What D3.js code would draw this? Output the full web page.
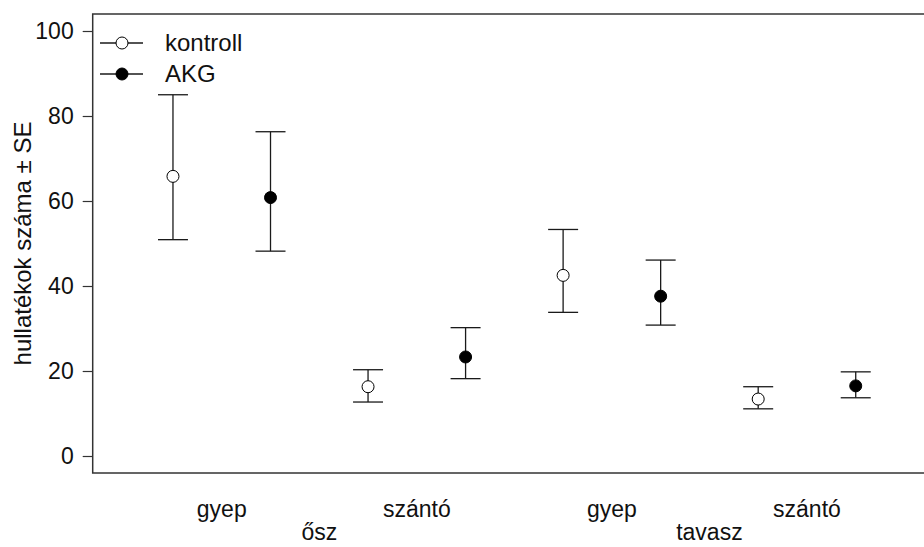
<!DOCTYPE html>
<html>
<head>
<meta charset="utf-8">
<script src="https://cdn.jsdelivr.net/npm/d3@7"></script>
<style>
  body { margin: 0; background: #fff; }
  svg { display: block; }
  text { font-family: "Liberation Sans", Arial, sans-serif; fill: #111; }
</style>
</head>
<body>
<svg id="chart" width="924" height="547"></svg>
<script>
// values (mean and SE limits)
const seasons = ["ősz", "tavasz"];
const habitats = ["gyep", "szántó", "gyep", "szántó"];
const groups = ["kontroll", "AKG"];
const kontrollMean = [65.8, 16.3, 42.5, 13.4];
const kontrollLow = [50.9, 12.7, 33.8, 11.1];
const kontrollHigh = [85.0, 20.3, 53.3, 16.3];
const akgMean = [60.8, 23.3, 37.6, 16.5];
const akgLow = [48.2, 18.2, 30.8, 13.7];
const akgHigh = [76.3, 30.2, 46.1, 19.8];
const yTicks = [0, 20, 40, 60, 80, 100];

let width = 924, height = 547;
let box = { left: 92.7, top: 14, right: 936, bottom: 473 };

let points = [];
habitats.forEach((h, i) => {
  points.push({ pos: i * 2 + 1, group: "kontroll", mean: kontrollMean[i], lo: kontrollLow[i], hi: kontrollHigh[i] });
  points.push({ pos: i * 2 + 2, group: "AKG", mean: akgMean[i], lo: akgLow[i], hi: akgHigh[i] });
});

let x = d3.scaleLinear().domain([0.177, 8.823]).range([box.left, box.right]);
let y = d3.scaleLinear().domain([-4, 104]).range([box.bottom, box.top]);

let svg = d3.select("#chart");

// frame
svg.append("rect")
  .attr("x", box.left).attr("y", box.top)
  .attr("width", box.right - box.left).attr("height", box.bottom - box.top)
  .attr("fill", "none").attr("stroke", "#333").attr("stroke-width", 1.5);

// y axis
let yAxis = g => g.attr("transform", `translate(${box.left},0)`)
  .call(d3.axisLeft(y).tickValues(yTicks).tickSize(10).tickPadding(9).tickFormat(d3.format("d")))
  .call(g => g.select(".domain").remove())
  .call(g => g.selectAll(".tick line").attr("stroke", "#333").attr("stroke-width", 1.2))
  .call(g => g.selectAll(".tick text").attr("font-size", 23).attr("font-family", "Liberation Sans, Arial, sans-serif").attr("fill", "#111"));
svg.append("g").call(yAxis);

svg.append("text")
  .attr("transform", `translate(31,${y(50)}) rotate(-90)`)
  .attr("text-anchor", "middle")
  .attr("font-size", 24)
  .text("hullatékok száma ± SE");

// x labels
svg.append("g").selectAll("text").data(habitats).join("text")
  .attr("x", (d, i) => x(i * 2 + 1.5))
  .attr("y", 517)
  .attr("text-anchor", "middle")
  .attr("font-size", 23)
  .text(d => d);

svg.append("g").selectAll("text").data(seasons).join("text")
  .attr("x", (d, i) => x(i * 4 + 2.5))
  .attr("y", 540)
  .attr("text-anchor", "middle")
  .attr("font-size", 23)
  .text(d => d);

// error bars
let cap = 15;
let bars = svg.append("g").attr("stroke", "#1a1a1a").attr("stroke-width", 1.3);
bars.selectAll("line.v").data(points).join("line").attr("class", "v")
  .attr("x1", d => x(d.pos)).attr("x2", d => x(d.pos))
  .attr("y1", d => y(d.lo)).attr("y2", d => y(d.hi));
bars.selectAll("line.hi").data(points).join("line").attr("class", "hi")
  .attr("x1", d => x(d.pos) - cap).attr("x2", d => x(d.pos) + cap)
  .attr("y1", d => y(d.hi)).attr("y2", d => y(d.hi));
bars.selectAll("line.lo").data(points).join("line").attr("class", "lo")
  .attr("x1", d => x(d.pos) - cap).attr("x2", d => x(d.pos) + cap)
  .attr("y1", d => y(d.lo)).attr("y2", d => y(d.lo));

svg.append("g").selectAll("circle").data(points).join("circle")
  .attr("cx", d => x(d.pos)).attr("cy", d => y(d.mean)).attr("r", 6)
  .attr("fill", d => d.group == "AKG" ? "#000" : "#fff")
  .attr("stroke", "#000").attr("stroke-width", 1);

// legend
let legend = svg.append("g").selectAll("g").data(groups).join("g")
  .attr("transform", (d, i) => `translate(0,${43 + i * 31})`);
legend.append("line").attr("x1", 100).attr("x2", 143).attr("y1", 0).attr("y2", 0)
  .attr("stroke", "#1a1a1a").attr("stroke-width", 1.3);
legend.append("circle").attr("cx", 122).attr("cy", 0).attr("r", 6)
  .attr("fill", d => d == "AKG" ? "#000" : "#fff").attr("stroke", "#000");
legend.append("text").attr("x", 165).attr("y", 8).attr("font-size", 24).text(d => d);
</script>
</body>
</html>
